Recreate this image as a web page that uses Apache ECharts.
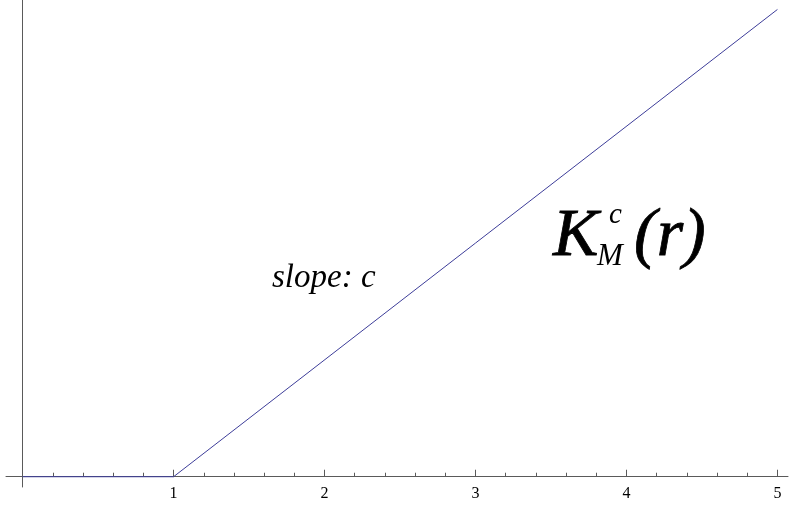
<!DOCTYPE html>
<html>
<head>
<meta charset="utf-8">
<script src="https://cdn.jsdelivr.net/npm/echarts@6/dist/echarts.min.js"></script>
<style>html,body{margin:0;padding:0;background:#fff}#c{width:789px;height:507px}</style>
</head>
<body>
<div id="c"></div>
<script>
// data
const rValues = [0, 1, 5];
const kValues = [0, 0, 4];
const majorTicks = [1, 2, 3, 4, 5];
const minorTicks = [0.2, 0.4, 0.6, 0.8, 1.2, 1.4, 1.6, 1.8, 2.2, 2.4, 2.6, 2.8, 3.2, 3.4, 3.6, 3.8, 4.2, 4.4, 4.6, 4.8];
const slopeLabel = 'slope: c';

const chart = echarts.init(document.getElementById('c'), null, {renderer: 'canvas'});
const axisColor = '#5a5a5a';
const serif = "'Liberation Serif', 'Times New Roman', serif";
const xMin = -0.11, xMax = 5.07, yMin = -0.088, yMax = 4.081;
const gridH = 487;
const zeroOffset = -gridH * (0 - yMin) / (yMax - yMin);

chart.setOption({
  animation: false,
  grid: {left: 6, right: 1, top: 0, bottom: 20, containLabel: false, outerBoundsMode: 'none'},
  xAxis: [{
    type: 'value', min: xMin, max: xMax, position: 'bottom', offset: zeroOffset,
    axisLine: {show: true, onZero: false, lineStyle: {color: axisColor, width: 1}},
    axisTick: {show: true, inside: true, length: 7, customValues: majorTicks, lineStyle: {color: axisColor}},
    axisLabel: {show: true, customValues: majorTicks, margin: 9, color: '#000', fontFamily: serif, fontSize: 16},
    splitLine: {show: false}
  }, {
    type: 'value', min: xMin, max: xMax, position: 'bottom', offset: zeroOffset,
    axisLine: {show: false, onZero: false},
    axisTick: {show: true, inside: true, length: 4, customValues: minorTicks, lineStyle: {color: axisColor}},
    axisLabel: {show: false},
    splitLine: {show: false}
  }],
  yAxis: {
    type: 'value', min: yMin, max: yMax,
    axisLine: {show: true, onZero: true, lineStyle: {color: axisColor, width: 1}},
    axisTick: {show: false}, axisLabel: {show: false}, splitLine: {show: false}
  },
  series: [{
    type: 'line', xAxisIndex: 0, z: 5,
    data: rValues.map((r, i) => [r, kValues[i]]),
    showSymbol: false, symbol: 'none',
    lineStyle: {color: '#3d3d99', width: 1}
  }],
  graphic: [
    {type: 'text', x: 272, y: 278, style: {text: slopeLabel, font: "italic 33px " + serif, fill: '#000', verticalAlign: 'middle'}},
    {type: 'text', x: 553, y: 237, style: {text: 'K', font: "italic 68px " + serif, fill: '#000', stroke: '#000', lineWidth: 0.8, verticalAlign: 'middle'}},
    {type: 'text', x: 609, y: 215, style: {text: 'c', font: "italic 29px " + serif, fill: '#000', verticalAlign: 'middle'}},
    {type: 'text', x: 597, y: 257, style: {text: 'M', font: "italic 31px " + serif, fill: '#000', verticalAlign: 'middle'}},
    {type: 'text', x: 634, y: 237, style: {text: '(r)', font: "italic 68px " + serif, fill: '#000', stroke: '#000', lineWidth: 0.8, verticalAlign: 'middle'}}
  ]
});
</script>
</body>
</html>
